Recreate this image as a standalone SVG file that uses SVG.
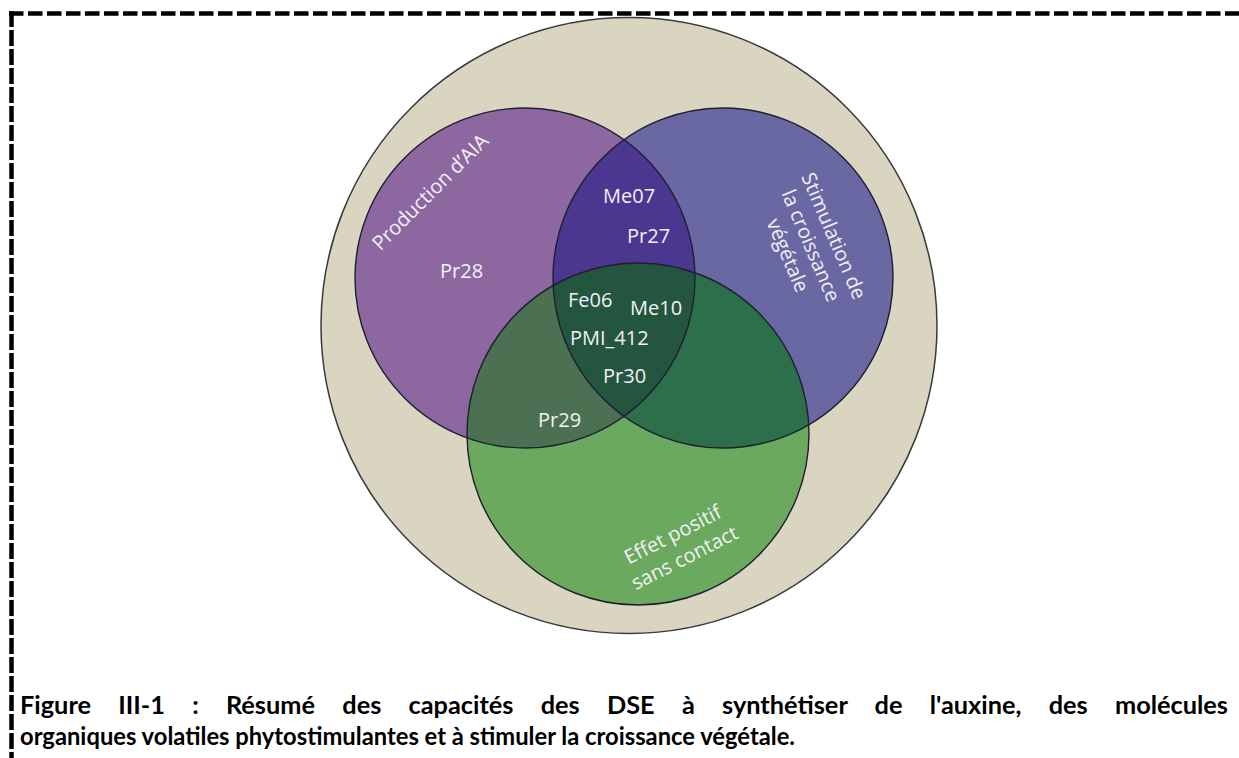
<svg xmlns="http://www.w3.org/2000/svg" width="1239" height="758" viewBox="0 0 1239 758">
<style>
.lbl{font-family:"Open Sans","Liberation Sans",sans-serif;font-size:20px;fill:#F2F0F5}
.cap{font-family:Lato,"Liberation Sans",sans-serif;font-weight:bold;font-size:24px;fill:#000}
.edge{fill:none;stroke:#1E1E30;stroke-width:1.4}
</style>
<defs>
<clipPath id="cP"><circle cx="525" cy="278" r="170"/></clipPath>
<clipPath id="cB"><circle cx="723" cy="278" r="170"/></clipPath>
</defs>
<rect width="1239" height="758" fill="#fff"/>
<g id="border" fill="none" stroke="#000">
<line x1="9" y1="13.5" x2="1239" y2="13.5" stroke-width="4.5" stroke-dasharray="14.5 4.5"/>
<line x1="11.5" y1="11" x2="11.5" y2="758" stroke-width="4.5" stroke-dasharray="16 3"/>
</g>
<g id="outer">
<circle cx="629" cy="325.5" r="308" fill="#D9D5C1" stroke="#3A3A3A" stroke-width="1.5"/>
</g>
<g id="regions">
<circle id="purple" cx="525" cy="278" r="170" fill="#8D68A0"/>
<circle id="blue" cx="723" cy="278" r="170" fill="#6A68A3"/>
<circle id="green" cx="638" cy="434" r="171" fill="#6BAA5E"/>
<circle cx="723" cy="278" r="170" fill="#4B3790" clip-path="url(#cP)"/>
<circle cx="638" cy="434" r="171" fill="#4B7152" clip-path="url(#cP)"/>
<circle cx="638" cy="434" r="171" fill="#2E6F4B" clip-path="url(#cB)"/>
<g clip-path="url(#cP)"><circle cx="638" cy="434" r="171" fill="#24553F" clip-path="url(#cB)"/></g>
<circle class="edge" cx="525" cy="278" r="170"/>
<circle class="edge" cx="723" cy="278" r="170"/>
<circle class="edge" cx="638" cy="434" r="171"/>
</g>
<g id="node-aia">
<text class="lbl" text-anchor="middle" transform="translate(435,197) rotate(-45)">Production d’AIA</text>
</g>
<g id="node-croissance">
<text class="lbl" text-anchor="middle" transform="translate(810,246) rotate(67)"><tspan x="0" y="-19">Stimulation de</tspan><tspan x="0" y="6">la croissance</tspan><tspan x="0" y="31">végétale</tspan></text>
</g>
<g id="node-contact">
<text class="lbl" text-anchor="middle" transform="translate(679,547) rotate(-27)"><tspan x="0" y="-7">Effet positif</tspan><tspan x="0" y="19">sans contact</tspan></text>
</g>
<g id="strains">
<text class="lbl" x="440" y="278">Pr28</text>
<text class="lbl" x="603" y="203">Me07</text>
<text class="lbl" x="627" y="243">Pr27</text>
<text class="lbl" x="568" y="307">Fe06</text>
<text class="lbl" x="630" y="315">Me10</text>
<text class="lbl" x="570" y="345">PMI_412</text>
<text class="lbl" x="603" y="383">Pr30</text>
<text class="lbl" x="538" y="427">Pr29</text>
</g>
<g id="caption">
<text class="cap" x="20" y="714" word-spacing="20" textLength="1208" lengthAdjust="spacingAndGlyphs">Figure III-1 : Résumé des capacités des DSE à synthétiser de l'auxine, des molécules</text>
<text class="cap" x="20" y="745" textLength="775" lengthAdjust="spacingAndGlyphs">organiques volatiles phytostimulantes et à stimuler la croissance végétale.</text>
</g>
</svg>
